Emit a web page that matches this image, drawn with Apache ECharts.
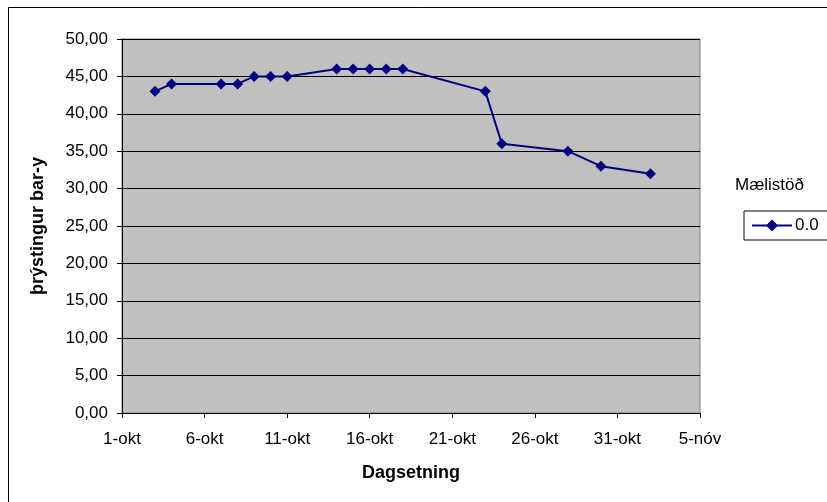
<!DOCTYPE html>
<html>
<head>
<meta charset="utf-8">
<script src="https://cdn.jsdelivr.net/npm/echarts@6/dist/echarts.min.js"></script>
<style>
  html, body { margin: 0; padding: 0; background: #fff; }
  #chart { width: 827px; height: 502px; }
</style>
</head>
<body>
<div id="chart"></div>
<script>
// Measurement dates and pressure readings (bar-y)
const dates = ['3-okt', '4-okt', '7-okt', '8-okt', '9-okt', '10-okt', '11-okt',
  '14-okt', '15-okt', '16-okt', '17-okt', '18-okt', '23-okt', '24-okt',
  '28-okt', '30-okt', '2-nóv'];
const pressure = [43, 44, 44, 44, 45, 45, 45, 46, 46, 46, 46, 46, 43, 36, 35, 33, 32];
const seriesName = '0.0';
const legendTitle = 'Mælistöð';
const xTitle = 'Dagsetning';
const yTitle = 'þrýstingur bar-y';

// Day offsets from 1 October; tick labels every 5 days
const months = { 'okt': 0, 'nóv': 31 };
function dayOffset(s) {
  const [d, m] = s.split('-');
  return months[m] + Number(d) - 1;
}
function offsetLabel(v) {
  return v < 31 ? (v + 1) + '-okt' : (v - 30) + '-nóv';
}
const points = dates.map((d, i) => [dayOffset(d), pressure[i]]);

const font = 'Liberation Sans, Arial, sans-serif';
const chart = echarts.init(document.getElementById('chart'), null, { renderer: 'canvas' });
chart.setOption({
  animation: false,
  backgroundColor: '#ffffff',
  textStyle: { fontFamily: font },
  grid: {
    left: 122, top: 39, right: 127, bottom: 89,
    show: true, backgroundColor: '#c0c0c0', borderColor: '#808080', borderWidth: 1
  },
  graphic: [
    { type: 'rect', shape: { x: 8.5, y: 7.5, width: 830, height: 510 },
      style: { fill: 'none', stroke: '#000', lineWidth: 1 }, silent: true },
    { type: 'text', left: 735, top: 177,
      style: { text: legendTitle, font: '17px ' + font, fill: '#000' } }
  ],
  legend: {
    left: 744, top: 211,
    data: [seriesName],
    itemWidth: 40, itemHeight: 15, itemGap: 4,
    padding: [6, 10, 6, 7],
    borderColor: '#000', borderWidth: 1, borderRadius: 0,
    textStyle: { fontFamily: font, fontSize: 17, color: '#000', padding: [0, 0, 0, -2] }
  },
  xAxis: {
    type: 'value', min: 0, max: 35, interval: 5,
    name: xTitle, nameLocation: 'middle', nameGap: 51,
    nameTextStyle: { fontFamily: font, fontSize: 18, fontWeight: 'bold', color: '#000' },
    axisLine: { lineStyle: { color: '#000', width: 1 } },
    axisTick: { show: true, length: 5, lineStyle: { color: '#000' } },
    axisLabel: { formatter: offsetLabel, fontFamily: font, fontSize: 17, color: '#000', margin: 18 },
    splitLine: { show: false }
  },
  yAxis: {
    type: 'value', min: 0, max: 50, interval: 5,
    name: yTitle, nameLocation: 'middle', nameGap: 75, nameRotate: 90,
    nameTextStyle: { fontFamily: font, fontSize: 18, fontWeight: 'bold', color: '#000' },
    axisLine: { show: true, lineStyle: { color: '#000', width: 1 } },
    axisTick: { show: true, length: 5, lineStyle: { color: '#000' } },
    axisLabel: {
      formatter: v => v.toFixed(2).replace('.', ','),
      fontFamily: font, fontSize: 17, color: '#000', margin: 14
    },
    splitLine: { show: true, lineStyle: { color: '#000', width: 1 } }
  },
  series: [{
    name: seriesName,
    type: 'line',
    data: points,
    symbol: 'diamond',
    symbolSize: 11,
    lineStyle: { color: '#000080', width: 2 },
    itemStyle: { color: '#000080' }
  }]
});
</script>
</body>
</html>
